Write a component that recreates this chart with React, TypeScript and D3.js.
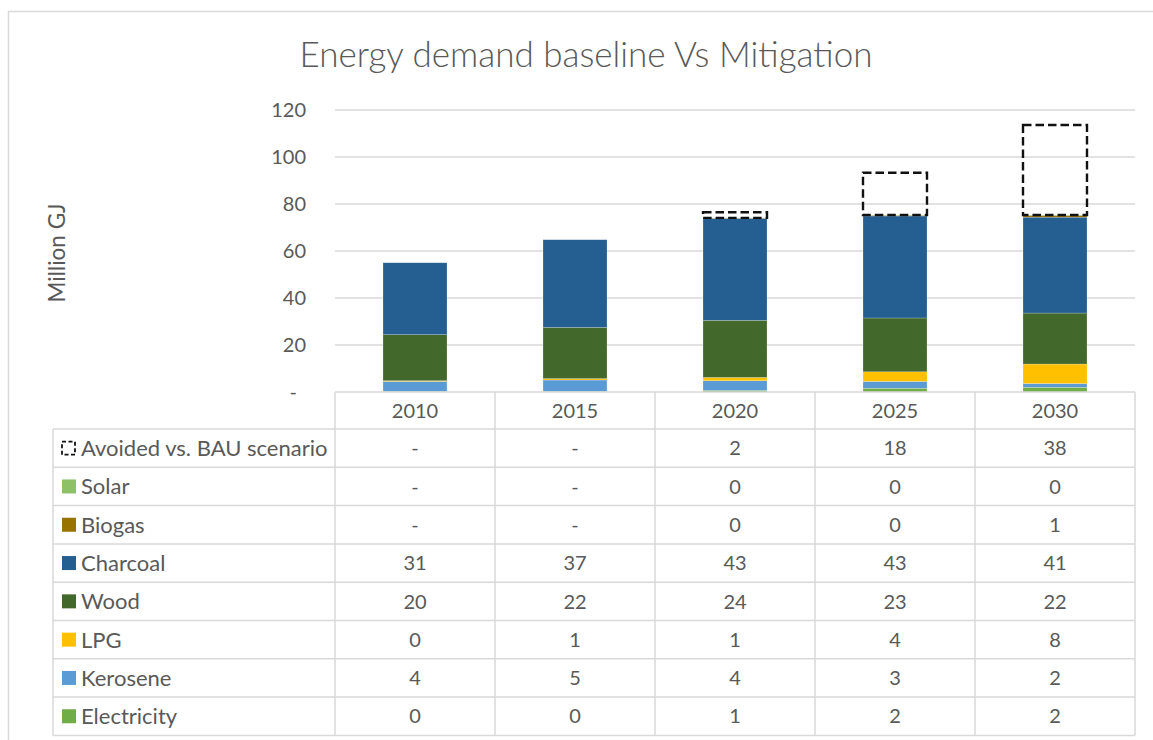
import React from "react";
import * as d3 from "d3";

// Years shown on the category axis and as table columns
const years = ["2010", "2015", "2020", "2025", "2030"];

// Energy demand by fuel, million GJ (stacked bottom to top)
const electricity = [0.3, 0.3, 0.7, 1.6, 2.0];
const kerosene = [4.2, 4.8, 4.1, 2.9, 1.6];
const lpg = [0.3, 0.6, 1.4, 4.1, 8.3];
const wood = [19.6, 21.8, 24.3, 22.9, 21.7];
const charcoal = [30.6, 37.3, 43.4, 43.4, 40.8];
const biogas = [0, 0, 0.1, 0.2, 0.7];
const solar = [0, 0, 0.1, 0.2, 0.2];
const avoided = [0, 0, 2.4, 18.0, 38.3];

const yTicks = [0, 20, 40, 60, 80, 100, 120];

type Series = { key: string; label: string; color: string; values: number[]; dashed?: boolean };

const series: Series[] = [
  { key: "electricity", label: "Electricity", color: "#70AD47", values: electricity },
  { key: "kerosene", label: "Kerosene", color: "#5B9BD5", values: kerosene },
  { key: "lpg", label: "LPG", color: "#FFC000", values: lpg },
  { key: "wood", label: "Wood", color: "#43682B", values: wood },
  { key: "charcoal", label: "Charcoal", color: "#255E91", values: charcoal },
  { key: "biogas", label: "Biogas", color: "#997300", values: biogas },
  { key: "solar", label: "Solar", color: "#8CC168", values: solar },
  { key: "avoided", label: "Avoided vs. BAU scenario", color: "none", values: avoided, dashed: true },
];

const W = 1153;
const H = 740;
const plotLeft = 335;
const plotRight = 1135;
const plotTop = 110;
const plotBottom = 392;
const headerH = 37;
const rowH = 38.3;
const legendLeft = 53;
const textColor = "#595959";
const lineColor = "#D9D9D9";
const font = "Lato, 'Open Sans', sans-serif";

const fmt = (v: number) => (v === 0 ? "-" : d3.format(".0f")(v));

export default function App() {
  const x = d3.scaleBand<string>().domain(years).range([plotLeft, plotRight]).padding(0);
  const y = d3.scaleLinear().domain([0, 120]).range([plotBottom, plotTop]);
  const barW = x.bandwidth() * 0.4;

  const rows = years.map((yr, i) => {
    const r: Record<string, number | string> = { year: yr };
    series.forEach((s) => (r[s.key] = s.values[i]));
    return r;
  });
  const stacked = d3.stack<Record<string, number | string>>().keys(series.map((s) => s.key))(rows as any);

  const tableTop = plotBottom + headerH;
  const tableRows = [...series].reverse();

  return (
    <svg
      width={W}
      height={H}
      style={{ position: "absolute", left: 0, top: 0, background: "#fff" }}
      fontFamily={font}
    >
      <rect x={8.5} y={11.5} width={1160} height={760} fill="#fff" stroke={lineColor} strokeWidth={1.5} />

      <text x={586} y={67} textAnchor="middle" fontSize={35} fontWeight={300} fill={textColor}>
        Energy demand baseline Vs Mitigation
      </text>

      <text
        transform={`translate(65, ${(plotTop + plotBottom) / 2 + 2}) rotate(-90)`}
        textAnchor="middle"
        fontSize={22.5}
        fill={textColor}
      >
        Million GJ
      </text>

      {/* gridlines and y tick labels */}
      {yTicks.map((t) => (
        <g key={t}>
          {t > 0 && (
            <line x1={plotLeft} x2={plotRight} y1={y(t)} y2={y(t)} stroke={lineColor} strokeWidth={1.5} />
          )}
          <text
            x={t === 0 ? 297 : 306}
            y={y(t)}
            dy="0.35em"
            textAnchor="end"
            fontSize={20}
            fill={textColor}
          >
            {fmt(t)}
          </text>
        </g>
      ))}

      {/* stacked bars */}
      {stacked.map((layer, li) => {
        const s = series[li];
        return (
          <g key={s.key}>
            {layer.map((d, i) => {
              const h = y(d[0]) - y(d[1]);
              if (h <= 0) return null;
              const bx = (x(years[i]) as number) + (x.bandwidth() - barW) / 2;
              if (s.dashed) {
                return (
                  <rect
                    key={i}
                    x={bx}
                    y={y(d[1])}
                    width={barW}
                    height={h}
                    fill="none"
                    stroke="#111"
                    strokeWidth={2.4}
                    strokeDasharray="8.5,4"
                  />
                );
              }
              return (
                <rect
                  key={i}
                  x={bx}
                  y={y(d[1])}
                  width={barW}
                  height={h}
                  fill={s.color}
                  stroke="#ffffff"
                  strokeOpacity={0.35}
                  strokeWidth={0.6}
                />
              );
            })}
          </g>
        );
      })}

      {/* data table */}
      <g>
        <line x1={plotLeft} x2={plotRight} y1={plotBottom} y2={plotBottom} stroke={lineColor} strokeWidth={1.5} />
        {years.map((yr) => (
          <text
            key={yr}
            x={(x(yr) as number) + x.bandwidth() / 2}
            y={plotBottom + headerH / 2}
            dy="0.36em"
            textAnchor="middle"
            fontSize={20}
            fill={textColor}
          >
            {yr}
          </text>
        ))}
        {d3.range(tableRows.length + 1).map((k) => (
          <line
            key={k}
            x1={legendLeft}
            x2={plotRight}
            y1={tableTop + k * rowH}
            y2={tableTop + k * rowH}
            stroke={lineColor}
            strokeWidth={1.5}
          />
        ))}
        <line
          x1={legendLeft}
          x2={legendLeft}
          y1={tableTop}
          y2={tableTop + tableRows.length * rowH}
          stroke={lineColor}
          strokeWidth={1.5}
        />
        {[...years.map((yr) => x(yr) as number), plotRight].map((vx, k) => (
          <line
            key={k}
            x1={vx}
            x2={vx}
            y1={plotBottom}
            y2={tableTop + tableRows.length * rowH}
            stroke={lineColor}
            strokeWidth={1.5}
          />
        ))}
        {tableRows.map((s, r) => {
          const cy = tableTop + r * rowH + rowH / 2;
          return (
            <g key={s.key}>
              {s.dashed ? (
                <rect
                  x={62}
                  y={cy - 6.5}
                  width={13}
                  height={13}
                  fill="none"
                  stroke="#111"
                  strokeWidth={1.8}
                  strokeDasharray="4,2.5"
                />
              ) : (
                <rect x={62} y={cy - 7} width={14} height={14} fill={s.color} />
              )}
              <text x={81} y={cy} dy="0.36em" fontSize={22} fill={textColor}>
                {s.label}
              </text>
              {s.values.map((v, i) => (
                <text
                  key={i}
                  x={(x(years[i]) as number) + x.bandwidth() / 2}
                  y={cy}
                  dy="0.36em"
                  textAnchor="middle"
                  fontSize={20}
                  fill={textColor}
                >
                  {fmt(v)}
                </text>
              ))}
            </g>
          );
        })}
      </g>
    </svg>
  );
}
